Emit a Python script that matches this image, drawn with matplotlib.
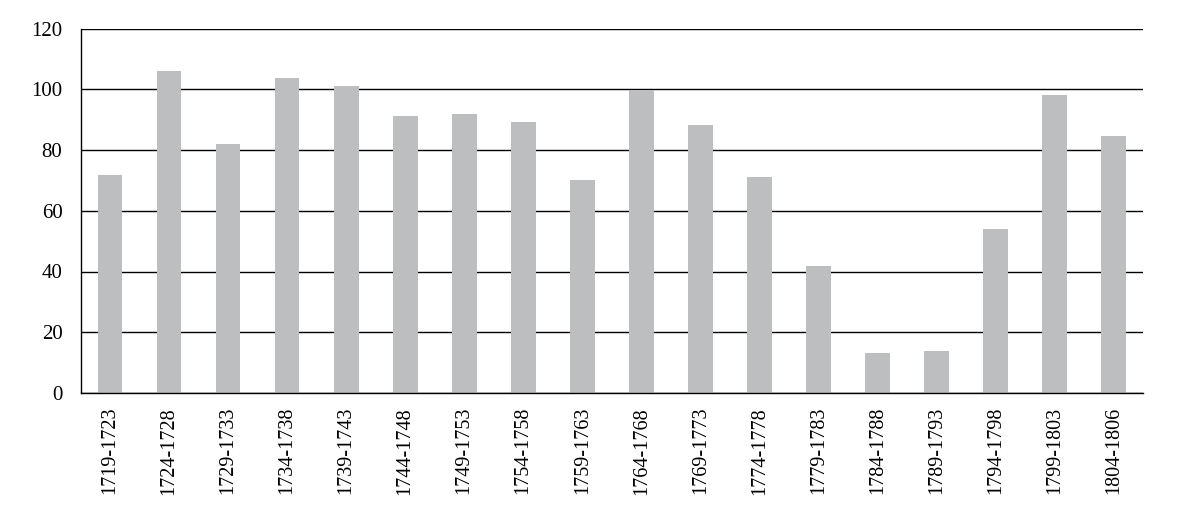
import matplotlib
matplotlib.use("Agg")
import matplotlib.pyplot as plt
import numpy as np

categories = ["1719-1723", "1724-1728", "1729-1733", "1734-1738", "1739-1743",
              "1744-1748", "1749-1753", "1754-1758", "1759-1763", "1764-1768",
              "1769-1773", "1774-1778", "1779-1783", "1784-1788", "1789-1793",
              "1794-1798", "1799-1803", "1804-1806"]
values = [71.7, 105.9, 81.9, 103.6, 101.0, 91.1, 91.8, 89.1, 70.0, 99.7,
          88.1, 71.0, 41.7, 13.1, 13.7, 53.9, 98.0, 84.5]
yticks = [0, 20, 40, 60, 80, 100, 120]

plt.rcParams['font.family'] = ['Liberation Serif', 'DejaVu Serif']

fig = plt.figure(figsize=(11.81, 5.19), dpi=100)
ax = fig.add_axes([80.5/1181, 1 - 393/519, (1143-80.5)/1181, (393-28.5)/519])

x = np.arange(len(categories))
ax.bar(x, values, width=0.42, color='#bdbec0', zorder=2)
ax.set_xlim(-0.5, len(categories) - 0.5)
ax.set_ylim(0, 120)
ax.set_yticks(yticks)
ax.set_yticklabels([str(t) for t in yticks], fontsize=15)
ax.set_xticks(x)
ax.set_xticklabels(categories, rotation=90, fontsize=14.5)
ax.tick_params(axis='both', length=0)
ax.tick_params(axis='y', pad=13)
ax.tick_params(axis='x', pad=10)
ax.yaxis.grid(True, color='black', linewidth=1.0, zorder=1)
ax.set_axisbelow(True)
for s in ['top', 'right']:
    ax.spines[s].set_visible(False)
for s in ['left', 'bottom']:
    ax.spines[s].set_color('black')
    ax.spines[s].set_linewidth(1.0)
    ax.spines[s].set_zorder(3)

fig.savefig("out.png", dpi=100)
